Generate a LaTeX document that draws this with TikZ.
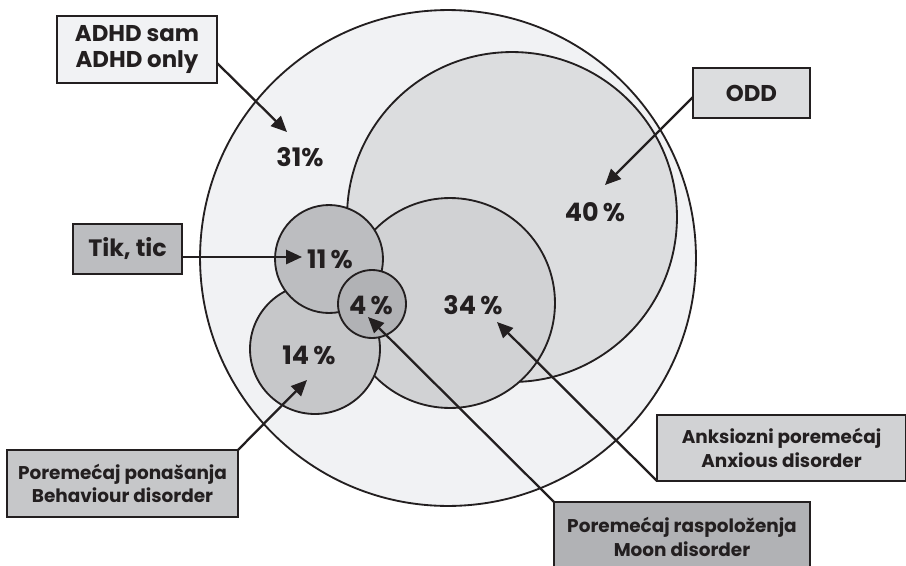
\documentclass[tikz,border=0pt]{standalone}
\usepackage{fontspec}
\setmainfont{Poppins}
\usetikzlibrary{arrows.meta,calc}
\definecolor{ink}{HTML}{231F20}
\definecolor{cBig}{HTML}{F1F2F4}
\definecolor{cOdd}{HTML}{DCDDDF}
\definecolor{cAnx}{HTML}{D1D2D4}
\definecolor{cBeh}{HTML}{C6C7C9}
\definecolor{cTic}{HTML}{BCBDC0}
\definecolor{cMood}{HTML}{B1B2B5}
\tikzset{
  ring/.style={circle,draw=ink,line width=1.05pt,inner sep=0pt,outer sep=0pt},
  lbox/.style={draw=ink,line width=1.3pt,inner sep=0pt,outer sep=0pt,align=center,text=ink,font=\bfseries},
  pct/.style={text=ink,font=\bfseries\fontsize{14.5}{16}\selectfont,inner sep=0pt},
  pointer/.style={draw=ink,line width=1.3pt,-{Triangle[length=9pt,width=8pt]}},
  plain/.style={draw=ink,line width=1.3pt}
}
\begin{document}
\begin{tikzpicture}[x=0.02cm,y=-0.02cm]
\useasboundingbox (0,0) rectangle (906,565);
\clip (0,0) rectangle (906,565);
% circles
\node[ring,fill=cBig,minimum size=9.92cm] (big) at (448,258) {};
\node[ring,fill=cOdd,minimum size=6.6cm] (odd) at (512,217) {};
\node[ring,fill=cAnx,minimum size=4.2cm] (anx) at (450,303) {};
\node[ring,fill=cBeh,minimum size=2.6cm] (beh) at (315,349) {};
\node[ring,fill=cTic,minimum size=2.16cm] (tic) at (329,259) {};
\node[ring,fill=cMood,minimum size=1.36cm] (mood) at (372,304) {};
% percentages
\node[pct] (l31) at (300,157) {31\%};
\node[pct] (l40) at (595,212) {40\,\%};
\node[pct] (l11) at (330,259) {11\,\%};
\node[pct] (l4) at (371,305) {4\,\%};
\node[pct] (l34) at (473,305) {34\,\%};
\node[pct] (l14) at (309,355) {14\,\%};
% boxes
\node[lbox,fill=cBig,minimum width=3.2cm,minimum height=1.34cm,font=\bfseries\fontsize{13}{15}\selectfont] (badhd) at (137,49.5) {ADHD sam\\ADHD only};
\node[lbox,fill=cOdd,minimum width=2.34cm,minimum height=1.0cm,font=\bfseries\fontsize{13}{15}\selectfont] (bodd) at (751.5,93) {ODD};
\node[lbox,fill=cTic,minimum width=2.18cm,minimum height=1.0cm,font=\bfseries\fontsize{13.5}{15}\selectfont] (btic) at (127.5,249) {Tik, tic};
\node[lbox,fill=cBeh,minimum width=4.62cm,minimum height=1.34cm,font=\bfseries\fontsize{10.5}{13.5}\selectfont] (bbeh) at (122.5,483.5) {Poremećaj ponašanja\\Behaviour disorder};
\node[lbox,fill=cAnx,minimum width=4.98cm,minimum height=1.32cm,font=\bfseries\fontsize{10.5}{13.5}\selectfont] (banx) at (781.5,448) {Anksiozni poremećaj\\Anxious disorder};
\node[lbox,fill=cMood,minimum width=5.12cm,minimum height=1.4cm,font=\bfseries\fontsize{10.5}{13.5}\selectfont] (bmood) at (682,537) {Poremećaj raspoloženja\\Moon disorder};
% arrow tips
\coordinate (t31) at (287,132);
\coordinate (t40) at (605,185);
\coordinate (t11) at (302,257);
\coordinate (t14) at (307,380);
\coordinate (t34) at (497,322);
\coordinate (t4) at (368,317);
% connectors
\draw[pointer] ($(badhd.east)+(0,13.5)$) -- (t31);
\draw[pointer] ($(bodd.west)+(0,4)$) -- (t40);
\draw[pointer] ($(btic.east)+(0,8)$) -- (t11);
\draw[pointer] (bbeh.north east) -- (t14);
\draw[pointer] (banx.south west) -- (t34);
\draw[pointer] (bmood.north west) -- (t4);
\end{tikzpicture}
\end{document}
